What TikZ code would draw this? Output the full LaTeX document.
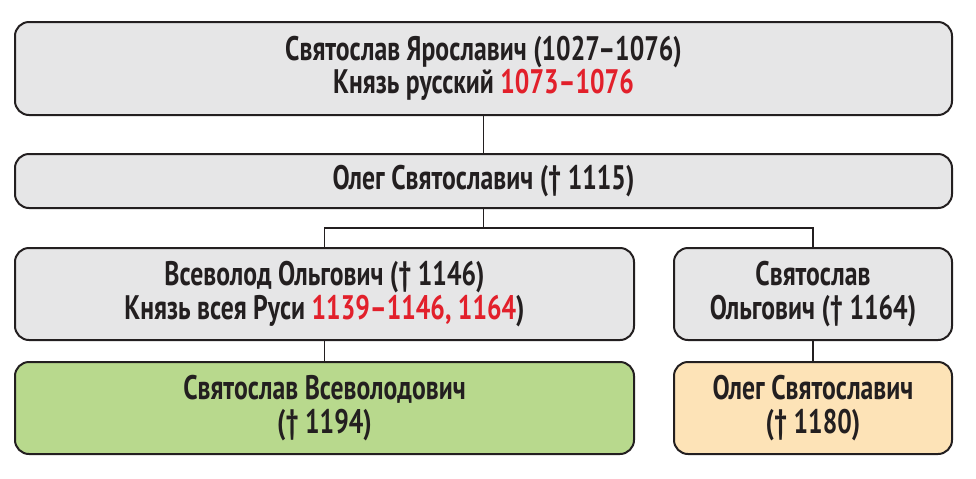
\documentclass[tikz,border=0pt]{standalone}
\usepackage{fontspec}
\setmainfont{PT Sans}[FakeStretch=0.755]
\usepackage{xcolor}
\definecolor{boxgray}{HTML}{E6E6E7}
\definecolor{boxgreen}{HTML}{B8D98D}
\definecolor{boxorange}{HTML}{FDE3B7}
\definecolor{datered}{HTML}{E2202B}
\definecolor{ink}{HTML}{231F20}
\tikzset{>=latex}
\tikzset{person/.style={draw=ink, line width=1pt, rounded corners=7pt, fill=boxgray,
  align=center, text=ink, font=\fontsize{17}{16.6}\selectfont\bfseries, inner sep=0pt},
  link/.style={draw=ink, line width=0.8pt}}
\newcommand{\red}[1]{\textcolor{datered}{#1}}

\begin{document}
\begin{tikzpicture}[x=0.5pt,y=-0.5pt]
  \useasboundingbox (0,0) rectangle (976,478);
  \node[person, minimum width=468.5pt, minimum height=46.5pt] (svyatoslavY) at (483.5,68.5)
    {Святослав Ярославич (1027–1076)\\Князь русский \red{1073–1076}};
  \node[person, minimum width=468.5pt, minimum height=27pt] (olegS) at (483.5,181)
    {Олег Святославич († 1115)};
  \node[person, minimum width=309.5pt, minimum height=46pt] (vsevolod) at (324.5,294)
    {Всеволод Ольгович († 1146)\\Князь всея Руси \red{1139–1146, 1164})};
  \node[person, minimum width=139pt, minimum height=46pt] (svyatoslavO) at (813,294)
    {Святослав\\Ольгович († 1164)};
  \node[person, fill=boxgreen, minimum width=309.5pt, minimum height=46pt] (svyatoslavV) at (324.5,408)
    {Святослав Всеволодович\\(† 1194)};
  \node[person, fill=boxorange, minimum width=139pt, minimum height=46pt] (olegS2) at (813,408)
    {Олег Святославич\\(† 1180)};
  \coordinate (fork) at (483.5,228);
  \draw[link] (svyatoslavY) -- (olegS);
  \draw[link] (olegS) -- (fork);
  \draw[link] (vsevolod.north) |- (fork) -| (svyatoslavO.north);
  \draw[link] (vsevolod) -- (svyatoslavV);
  \draw[link] (svyatoslavO) -- (olegS2);
 \end{tikzpicture}
\end{document}
